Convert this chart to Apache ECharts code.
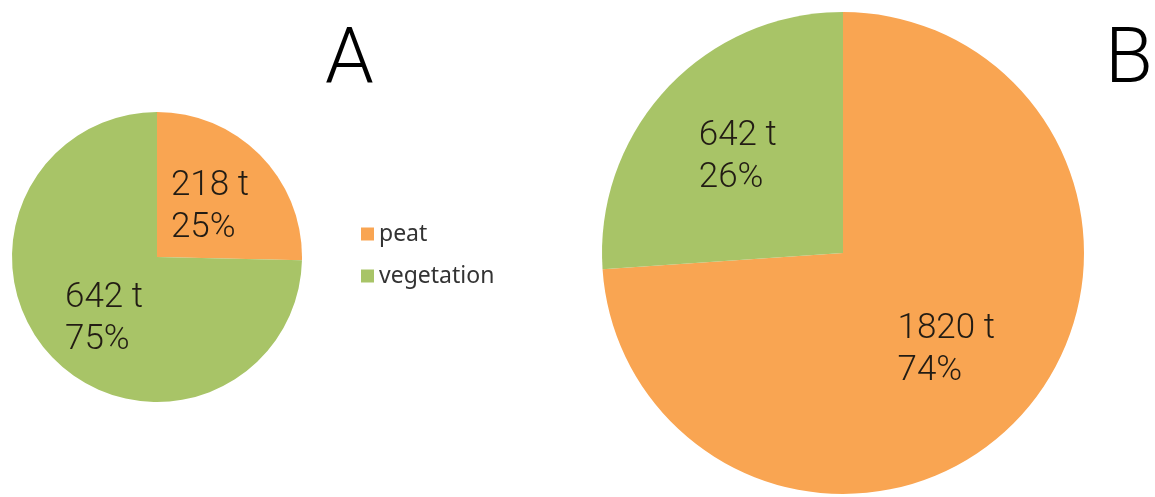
<!DOCTYPE html>
<html><head><meta charset="utf-8">
<script src="https://cdn.jsdelivr.net/npm/echarts@6/dist/echarts.min.js"></script>
<style>html,body{margin:0;padding:0;background:#fff}#c{width:1155px;height:497px}</style>
</head><body><div id="c"></div>
<script>
const categories = ['peat', 'vegetation'];
const valuesA = [218, 642];
const valuesB = [1820, 642];
const panelTitles = ['A', 'B'];
const unit = 't';

const colors = ['#f9a552', '#a8c467'];
const chart = echarts.init(document.getElementById('c'), null, {renderer: 'canvas'});

function toData(vals) {
  return categories.map((n, i) => ({name: n, value: vals[i]}));
}
const labelFont = {fontFamily: 'Roboto', fontWeight: 300, fontSize: 35, lineHeight: 42, color: '#221c14', align: 'left'};

function pieSeries(vals, center, radius, shifts) {
  return {
    type: 'pie',
    center: center,
    radius: radius,
    startAngle: 90,
    clockwise: true,
    percentPrecision: 0,
    avoidLabelOverlap: false,
    silent: true,
    animation: false,
    data: toData(vals),
    itemStyle: {borderWidth: 0},
    label: {
      show: true,
      position: 'inside',
      formatter: p => '{v|' + p.value + ' ' + unit + '}\n{v|' + p.percent + '%}',
      rich: {v: labelFont}
    },
    labelLine: {show: false},
    labelLayout: p => ({dx: shifts[p.dataIndex][0], dy: shifts[p.dataIndex][1]}),
    emphasis: {disabled: true}
  };
}

const titleStyle = {fontFamily: 'Roboto', fontWeight: 300, fontSize: 78, color: '#000'};

chart.setOption({
  animation: false,
  color: colors,
  title: [
    {text: panelTitles[0], left: 320, top: 19, textStyle: titleStyle},
    {text: panelTitles[1], left: 1100, top: 18, textStyle: titleStyle}
  ],
  legend: {
    data: categories,
    orient: 'vertical',
    left: 356,
    top: 215,
    icon: 'rect',
    itemWidth: 13,
    itemHeight: 13,
    itemGap: 14,
    textStyle: {fontFamily: 'Noto Sans', fontSize: 23, lineHeight: 24, color: '#333', padding: [4, 0, 0, 0]},
    selectedMode: false
  },
  series: [
    pieSeries(valuesA, [157, 257], 145, [[-1, 3], [1, 9]]),
    pieSeries(valuesB, [843, 253], 241, [[13, 13], [-15, -11]])
  ]
});
</script></body></html>
